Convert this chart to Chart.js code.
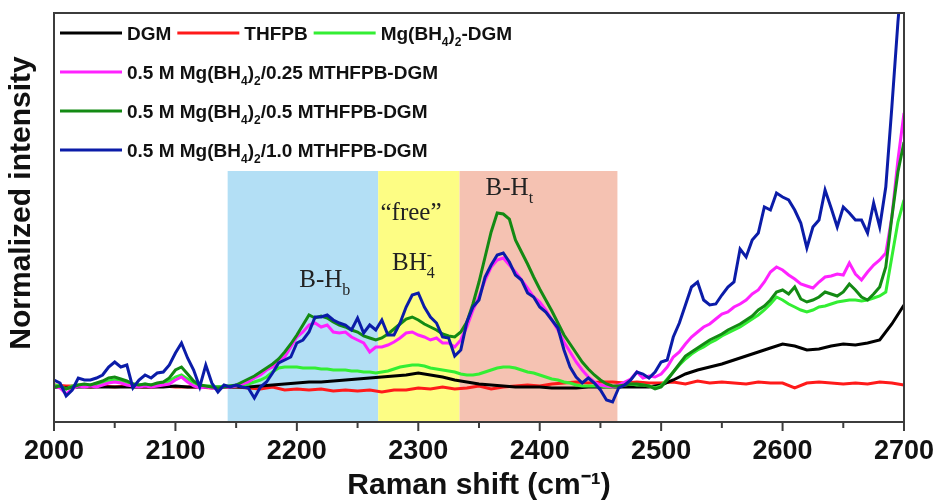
<!DOCTYPE html>
<html>
<head>
<meta charset="utf-8">
<title>Raman spectra</title>
<script src="https://cdn.jsdelivr.net/npm/chart.js@4.4.0/dist/chart.umd.min.js"></script>
<style>
  body { margin: 0; background: #fff; }
</style>
</head>
<body>
<canvas id="ramanChart" width="941" height="504"></canvas>
<script>
// Raman shift grid (cm-1)
const shiftFine = [
  2000, 2005, 2010, 2015, 2020, 2025, 2030, 2035, 2040, 2045,
  2050, 2055, 2060, 2065, 2070, 2075, 2080, 2085, 2090, 2095,
  2100, 2105, 2110, 2115, 2120, 2125, 2130, 2135, 2140, 2145,
  2150, 2155, 2160, 2165, 2170, 2175, 2180, 2185, 2190, 2195,
  2200, 2205, 2210, 2215, 2220, 2225, 2230, 2235, 2240, 2245,
  2250, 2255, 2260, 2265, 2270, 2275, 2280, 2285, 2290, 2295,
  2300, 2305, 2310, 2315, 2320, 2325, 2330, 2335, 2340, 2345,
  2350, 2355, 2360, 2365, 2370, 2375, 2380, 2385, 2390, 2395,
  2400, 2405, 2410, 2415, 2420, 2425, 2430, 2435, 2440, 2445,
  2450, 2455, 2460, 2465, 2470, 2475, 2480, 2485, 2490, 2495,
  2500, 2505, 2510, 2515, 2520, 2525, 2530, 2535, 2540, 2545,
  2550, 2555, 2560, 2565, 2570, 2575, 2580, 2585, 2590, 2595,
  2600, 2605, 2610, 2615, 2620, 2625, 2630, 2635, 2640, 2645,
  2650, 2655, 2660, 2665, 2670, 2675, 2680, 2685, 2690, 2695,
  2700
];
const shiftCoarse = [
  2000, 2010, 2020, 2030, 2040, 2050, 2060, 2070, 2080, 2090,
  2100, 2110, 2120, 2130, 2140, 2150, 2160, 2170, 2180, 2190,
  2200, 2210, 2220, 2230, 2240, 2250, 2260, 2270, 2280, 2290,
  2300, 2310, 2320, 2330, 2340, 2350, 2360, 2370, 2380, 2390,
  2400, 2410, 2420, 2430, 2440, 2450, 2460, 2470, 2480, 2490,
  2500, 2510, 2520, 2530, 2540, 2550, 2560, 2570, 2580, 2590,
  2600, 2610, 2620, 2630, 2640, 2650, 2660, 2670, 2680, 2690,
  2700
];

// intensities (arb. units), coarse grid
const dgm = [
  35, 34, 35, 35, 35, 35, 35, 35, 35, 35,
  36, 35, 35, 35, 35, 35, 35, 36, 37, 38,
  39, 40, 40, 41, 42, 43, 44, 45, 46, 47,
  49, 47, 45, 42, 40, 38, 37, 36, 35, 35,
  35, 34, 34, 34, 35, 35, 35, 35, 35, 35,
  37, 42, 48, 52, 55, 58, 62, 66, 70, 74,
  78, 76, 72, 73, 76, 78, 77, 79, 82, 98,
  117
];
const thfpb = [
  37, 36, 36, 35, 36, 35, 36, 35, 35, 36,
  35, 35, 35, 34, 35, 35, 34, 33, 35, 32,
  33, 32, 33, 31, 32, 31, 32, 30, 32, 32,
  34, 33, 35, 33, 34, 36, 33, 35, 36, 37,
  36, 38, 39, 40, 39, 40, 40, 39, 40, 39,
  39, 40, 38, 41, 39, 40, 39, 38, 40, 39,
  39, 34, 39, 40, 39, 38, 39, 38, 40, 39,
  37
];

// intensities, fine grid
const mgDgm = [
  37, 36, 33, 36, 37, 37, 37, 38, 39, 41,
  42, 41, 39, 38, 37, 38, 37, 38, 39, 41,
  45, 47, 43, 39, 37, 36, 36, 35, 36, 36,
  36, 37, 38, 40, 42, 45, 50, 54, 55, 55,
  55, 54, 54, 54, 53, 53, 52, 52, 52, 51,
  51, 50, 50, 49, 50, 51, 53, 55, 56, 57,
  57, 56, 54, 53, 52, 51, 50, 48, 47, 47,
  48, 50, 52, 54, 55, 55, 54, 52, 50, 49,
  47, 45, 43, 42, 40, 39, 37, 36, 36, 36,
  36, 35, 35, 36, 37, 38, 37, 37, 36, 34,
  36, 43, 50, 57, 63, 68, 72, 75, 79, 82,
  86, 89, 92, 95, 99, 103, 107, 112, 118, 125,
  122, 118, 115, 112, 110, 112, 115, 116, 118, 120,
  121, 122, 122, 121, 122, 124, 126, 130, 165, 200,
  222
];
const mth025 = [
  36, 34, 28, 33, 36, 35, 36, 35, 37, 39,
  40, 39, 37, 36, 35, 36, 35, 36, 37, 38,
  42, 45, 40, 36, 34, 35, 34, 33, 35, 35,
  36, 38, 40, 44, 47, 52, 55, 60, 65, 75,
  85, 90, 97, 99, 95, 97, 90, 89, 90, 85,
  82, 79, 70, 75, 75, 77, 80, 84, 89, 90,
  87, 85, 82, 84, 79, 79, 75, 82, 95, 112,
  125, 142, 155, 162, 164, 157, 150, 142, 134, 125,
  120, 112, 102, 92, 80, 70, 60, 52, 45, 40,
  37, 36, 35, 37, 40, 43, 50, 44, 46, 45,
  48, 55, 65, 70, 78, 85, 90, 95, 98, 103,
  108, 110, 115, 118, 122, 128, 132, 140, 150, 155,
  152, 147, 143, 138, 136, 134, 140, 145, 146, 148,
  147, 159, 148, 142, 150, 157, 162, 169, 205, 262,
  309
];
const mth05 = [
  35, 36, 33, 35, 37, 38, 37, 39, 41, 44,
  45, 43, 41, 38, 37, 38, 37, 39, 40, 44,
  52, 55, 48, 41, 37, 36, 35, 34, 35, 36,
  37, 40, 43, 46, 50, 54, 58, 63, 70, 78,
  87, 97, 107, 104, 106, 104, 100, 97, 95, 92,
  90, 86, 84, 82, 84, 88, 93, 98, 103, 105,
  102, 98, 95, 92, 88, 86, 85, 90, 100, 118,
  140, 165, 190, 209, 208, 203, 182, 170, 158, 145,
  133, 122, 111, 99, 87, 78, 69, 60, 53, 47,
  42, 38, 36, 36, 37, 38, 38, 37, 36, 33,
  35, 42, 50, 58, 66, 70, 74, 78, 82, 85,
  88, 92, 95, 98, 102, 106, 112, 116, 122, 130,
  132, 128, 135, 123, 120, 122, 125, 130, 128, 126,
  130, 138, 132, 125, 122, 128, 135, 155, 205, 250,
  280
];
const mth10 = [
  42, 39, 26, 32, 44, 42, 42, 44, 47, 55,
  60, 55, 57, 34, 42, 47, 44, 49, 50, 57,
  69, 79, 64, 52, 35, 57, 39, 30, 37, 35,
  37, 35, 34, 24, 35, 40, 49, 59, 62, 65,
  79, 82, 90, 105, 105, 107, 102, 99, 97, 92,
  104, 89, 97, 92, 102, 87, 87, 99, 115, 127,
  129, 115, 105, 99, 85, 84, 66, 72, 100, 115,
  122, 145, 157, 167, 169, 160, 147, 142, 129, 125,
  115, 110, 102, 94, 72, 55, 45, 39, 44, 39,
  32, 22, 20, 34, 37, 42, 50, 48, 44, 50,
  60, 62, 85, 99, 117, 135, 140, 122, 117, 118,
  127, 135, 140, 173, 165, 182, 189, 215, 212, 229,
  225, 222, 212, 199, 174, 195, 202, 232, 214, 195,
  215, 209, 202, 202, 189, 219, 195, 235, 315, 400,
  470
];

// assignment regions (cm-1) and their labels
const bands = [
  { from: 2143, to: 2267, color: '#b3dff5' },
  { from: 2267, to: 2334, color: '#fdfd84' },
  { from: 2334, to: 2464, color: '#f5c2b2' }
];
const bandTop = 251;
const peakLabels = [
  { text: 'B-H_b', x: 2223, y: 135 },
  { text: '\u201Cfree\u201D', x: 2294, y: 202 },
  { text: 'BH_4^-', x: 2296, y: 152 },
  { text: 'B-H_t', x: 2375, y: 227 }
];

const SANS = "'Liberation Sans', Arial, sans-serif";
const SERIF = "'Liberation Serif', 'Times New Roman', serif";

function toPoints(xs, ys) {
  return xs.map((x, i) => ({ x: x, y: ys[i] }));
}

// text with _x subscripts and ^x superscripts
function drawRich(ctx, str, x, y, size, family, weight, align) {
  const parts = [];
  for (let i = 0; i < str.length; i++) {
    const c = str[i];
    if ((c === '_' || c === '^') && i + 1 < str.length) {
      parts.push({ t: str[i + 1], kind: c });
      i++;
    } else {
      parts.push({ t: c, kind: '' });
    }
  }
  const small = Math.round(size * 0.62);
  let cx = 0, lastSub = null;
  parts.forEach(p => {
    ctx.font = weight + ' ' + (p.kind ? small : size) + 'px ' + family;
    p.w = ctx.measureText(p.t).width;
    if (p.kind === '^' && lastSub) {
      p.x = lastSub.x;
      cx = Math.max(cx, lastSub.x + p.w);
    } else {
      p.x = cx;
      cx += p.w;
    }
    lastSub = p.kind === '_' ? p : null;
  });
  const start = align === 'center' ? x - cx / 2 : x;
  ctx.textAlign = 'left';
  ctx.textBaseline = 'alphabetic';
  parts.forEach(p => {
    ctx.font = weight + ' ' + (p.kind ? small : size) + 'px ' + family;
    let dy = 0;
    if (p.kind === '_') dy = size * 0.3;
    if (p.kind === '^') dy = -size * 0.42;
    ctx.fillText(p.t, start + p.x, y + dy);
  });
  return cx;
}

const bandsPlugin = {
  id: 'bands',
  beforeDatasetsDraw(chart) {
    const { ctx, chartArea, scales } = chart;
    const top = scales.y.getPixelForValue(bandTop);
    ctx.save();
    bands.forEach(b => {
      const l = scales.x.getPixelForValue(b.from);
      const r = scales.x.getPixelForValue(b.to);
      ctx.fillStyle = b.color;
      ctx.fillRect(l, top, r - l, chartArea.bottom - top);
    });
    ctx.restore();
  }
};

const framePlugin = {
  id: 'frame',
  afterDraw(chart) {
    const { ctx, chartArea, scales } = chart;
    ctx.save();
    // peak assignments
    ctx.fillStyle = '#222';
    peakLabels.forEach(p => {
      drawRich(ctx, p.text, scales.x.getPixelForValue(p.x), scales.y.getPixelForValue(p.y), 25, SERIF, 'normal', 'center');
    });
    // box and bottom ticks
    ctx.strokeStyle = '#3c3c3c';
    ctx.lineWidth = 2;
    ctx.strokeRect(chartArea.left, chartArea.top, chartArea.right - chartArea.left, chartArea.bottom - chartArea.top);
    scales.x.ticks.forEach(t => {
      const px = scales.x.getPixelForValue(t.value);
      const len = t.value % 100 === 0 ? 9 : 6;
      ctx.beginPath();
      ctx.moveTo(px, chartArea.bottom);
      ctx.lineTo(px, chartArea.bottom + len);
      ctx.stroke();
    });
    // y axis title, sits a little above the middle
    ctx.save();
    ctx.translate(22, chartArea.top + 190);
    ctx.rotate(-Math.PI / 2);
    ctx.fillStyle = '#111';
    ctx.font = 'bold 30px ' + SANS;
    ctx.textAlign = 'center';
    ctx.textBaseline = 'middle';
    ctx.fillText('Normalized intensity', 0, 0);
    ctx.restore();
    // legend
    const rows = [[0, 1, 2], [3], [4], [5]];
    const ds = chart.data.datasets;
    ctx.fillStyle = '#111';
    rows.forEach((row, r) => {
      const y = chartArea.top + 20 + r * 39;
      let x = chartArea.left + 6;
      row.forEach(i => {
        ctx.strokeStyle = ds[i].borderColor;
        ctx.lineWidth = 3;
        ctx.beginPath();
        ctx.moveTo(x, y);
        ctx.lineTo(x + 62, y);
        ctx.stroke();
        const w = drawRich(ctx, ds[i].label, x + 67, y + 7, 19, SANS, 'bold', 'left');
        x += 67 + w + 6;
      });
    });
    ctx.restore();
  }
};

const series = [
  { label: 'DGM', xs: shiftCoarse, ys: dgm, color: '#000000', order: 5 },
  { label: 'THFPB', xs: shiftCoarse, ys: thfpb, color: '#ff1a1a', order: 6 },
  { label: 'Mg(BH_4)_2-DGM', xs: shiftFine, ys: mgDgm, color: '#33ee33', order: 4 },
  { label: '0.5 M Mg(BH_4)_2/0.25 MTHFPB-DGM', xs: shiftFine, ys: mth025, color: '#ff22ff', order: 3 },
  { label: '0.5 M Mg(BH_4)_2/0.5 MTHFPB-DGM', xs: shiftFine, ys: mth05, color: '#138a13', order: 2 },
  { label: '0.5 M Mg(BH_4)_2/1.0 MTHFPB-DGM', xs: shiftFine, ys: mth10, color: '#0b1ca8', order: 1 }
];

new Chart(document.getElementById('ramanChart'), {
  type: 'line',
  data: {
    datasets: series.map(s => ({
      label: s.label,
      data: toPoints(s.xs, s.ys),
      borderColor: s.color,
      backgroundColor: s.color,
      borderWidth: 3,
      pointRadius: 0,
      tension: 0,
      order: s.order
    }))
  },
  options: {
    responsive: false,
    animation: false,
    devicePixelRatio: 1,
    layout: { padding: { top: 13, right: 37, left: 0, bottom: 0 } },
    plugins: { legend: { display: false }, tooltip: { enabled: false } },
    scales: {
      x: {
        type: 'linear',
        min: 2000,
        max: 2700,
        afterFit: s => {
          s.height = 82;
          // let the 2700 label hang into the right margin
          s.paddingLeft = 0;
          s.paddingRight = 0;
        },
        grid: { display: false, drawTicks: false },
        border: { display: false },
        ticks: {
          stepSize: 50,
          autoSkip: false,
          maxRotation: 0,
          padding: 13,
          color: '#111',
          font: { family: SANS, size: 27, weight: 'bold' },
          callback: v => (v % 100 === 0 ? String(v) : '')
        },
        title: {
          display: true,
          text: 'Raman shift (cm\u207B\u00B9)',
          color: '#111',
          font: { family: SANS, size: 30, weight: 'bold' },
          padding: { top: 0, bottom: 0 }
        }
      },
      y: {
        min: 0,
        max: 409,
        afterFit: s => { s.width = 54; },
        grid: { display: false, drawTicks: false },
        border: { display: false },
        ticks: { display: false }
      }
    }
  },
  plugins: [bandsPlugin, framePlugin]
});
</script>
</body>
</html>
